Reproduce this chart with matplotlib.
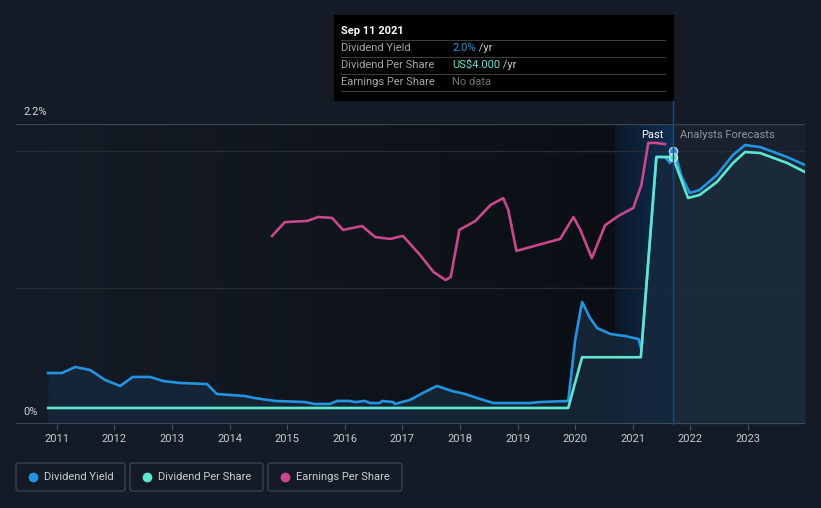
import numpy as np
import matplotlib
matplotlib.use("Agg")
import matplotlib.pyplot as plt
from matplotlib.patches import FancyBboxPatch, Rectangle
from matplotlib.lines import Line2D

plt.rcParams['font.family'] = ['Roboto', 'DejaVu Sans']

# ---------------- data ----------------
yield_past_x = [2010.85, 2011.09, 2011.32, 2011.58, 2011.84, 2012.10, 2012.32, 2012.62, 2012.85,
                2013.14, 2013.61, 2013.78, 2014.27, 2014.44, 2014.79, 2015.31, 2015.48, 2015.74,
                2015.87, 2016.09, 2016.18, 2016.35, 2016.44, 2016.61, 2016.65, 2016.84, 2016.87,
                2017.13, 2017.39, 2017.60, 2017.86, 2018.09, 2018.35, 2018.58, 2019.22, 2019.39,
                2019.88, 2020.00, 2020.12, 2020.26, 2020.38, 2020.61, 2020.87, 2021.10, 2021.15,
                2021.41, 2021.56, 2021.65, 2021.695]
yield_past_y = [0.374, 0.374, 0.418, 0.396, 0.323, 0.279, 0.345, 0.345, 0.315,
                0.301, 0.293, 0.220, 0.205, 0.190, 0.169, 0.161, 0.147, 0.147,
                0.169, 0.169, 0.161, 0.169, 0.154, 0.154, 0.169, 0.161, 0.147,
                0.176, 0.235, 0.279, 0.242, 0.220, 0.183, 0.154, 0.154, 0.161,
                0.169, 0.616, 0.895, 0.777, 0.704, 0.660, 0.645, 0.623, 0.543,
                1.958, 1.958, 1.914, 2.002]
yield_fc_x = [2021.695, 2021.73, 2021.85, 2021.99, 2022.16, 2022.46, 2022.74, 2022.95, 2023.21, 2023.68, 2023.99]
yield_fc_y = [2.002, 1.987, 1.811, 1.694, 1.716, 1.826, 1.973, 2.046, 2.031, 1.958, 1.899]

dps_past_x = [2010.85, 2019.88, 2020.12, 2021.14, 2021.41, 2021.56, 2021.695]
dps_past_y = [0.24, 0.24, 1.0, 1.0, 4.0, 4.0, 4.0]
dps_fc_x = [2021.695, 2021.96, 2022.16, 2022.46, 2022.74, 2022.95, 2023.21, 2023.68, 2023.99]
dps_fc_y = [4.0, 3.386, 3.431, 3.625, 3.91, 4.075, 4.06, 3.91, 3.775]

eps_x = [2014.74, 2014.96, 2015.35, 2015.54, 2015.78, 2015.97, 2016.30, 2016.53, 2016.79, 2017.01,
         2017.31, 2017.54, 2017.75, 2017.84, 2017.99, 2018.27, 2018.53, 2018.75, 2018.84, 2018.98,
         2019.17, 2019.74, 2019.97, 2020.09, 2020.29, 2020.52, 2020.78, 2021.01, 2021.15, 2021.27,
         2021.39, 2021.56]
eps_y = [6.27, 6.73, 6.77, 6.90, 6.87, 6.47, 6.60, 6.23, 6.17, 6.27,
         5.63, 5.07, 4.80, 4.90, 6.47, 6.77, 7.30, 7.53, 7.13, 5.77,
         5.87, 6.17, 6.90, 6.47, 5.53, 6.63, 6.97, 7.20, 7.97, 9.37,
         9.37, 9.33]

years = list(range(2011, 2024))
year_labels = [str(y) for y in years]

# ---------------- style ----------------
BG = '#151b26'
BLUE = '#2394df'
TEAL = '#5fe6cf'
PINK = '#c9488c'
W, H = 821, 508

fig = plt.figure(figsize=(W / 100, H / 100), dpi=100, facecolor=BG)

def fx(px):
    return px / W

def fy(py):
    return 1 - py / H

ax = fig.add_axes([fx(16), fy(424), fx(805) - fx(16), fy(124) - fy(424)])
ax.set_facecolor(BG)
XL = (2010.293, 2023.99)
ax.set_xlim(*XL)
ax.set_ylim(0, 2.2)
for s in ax.spines.values():
    s.set_visible(False)

x_start, x_band, x_now, x_end = 2010.85, 2020.693, 2021.695, 2023.99

# background gradients
def hgrad(c1, c2, n=256):
    c1 = np.array(matplotlib.colors.to_rgb(c1))
    c2 = np.array(matplotlib.colors.to_rgb(c2))
    t = np.linspace(0, 1, n)[None, :, None]
    return c1 + (c2 - c1) * t

ax.imshow(hgrad('#151b26', '#0b0f15'), extent=[x_start, x_band, 0, 2.2], aspect='auto', zorder=0)
ax.imshow(hgrad('#0c1828', '#0e2f54'), extent=[x_band, x_now, 0, 2.2], aspect='auto', zorder=0)
ax.add_patch(Rectangle((x_now, 0), x_end - x_now, 2.2, color='#18212d', zorder=0, lw=0))

# grid
ax.axhline(2.2, color='#3d434d', lw=1.0, zorder=1)
ax.axhline(2.0, color='#272d37', lw=1.0, zorder=1)
ax.axhline(1.0, color='#272d37', lw=1.0, zorder=1)
ax.axhline(0.0, color='#4a515d', lw=1.2, zorder=6)

ax.text(2010.42, 2.2 + 0.05, '2.2%', color='#d0d4da', fontsize=8, va='bottom', ha='left')
ax.text(2010.42, 0.05, '0%', color='#d0d4da', fontsize=8, va='bottom', ha='left')

# fills
ax.fill_between(yield_past_x, yield_past_y, 0, color='#16283b', alpha=0.85, lw=0, zorder=2)
ax.fill_between(yield_fc_x, yield_fc_y, 0, color='#1b2d3f', alpha=0.8, lw=0, zorder=2)

# yield lines
ax.plot(yield_past_x, yield_past_y, color=BLUE, lw=1.9, zorder=4, solid_joinstyle='round')
ax.plot(yield_fc_x, yield_fc_y, color=BLUE, lw=1.9, zorder=4, solid_joinstyle='round')

# DPS axis
ax2 = ax.twinx()
ax2.set_ylim(0, 300 / 66.75)
ax2.set_xlim(*XL)
ax2.axis('off')
ax2.plot(dps_past_x, dps_past_y, color=TEAL, lw=1.9, zorder=5, solid_joinstyle='round')
ax2.plot(dps_fc_x, dps_fc_y, color=TEAL, lw=1.9, zorder=5, solid_joinstyle='round')

# EPS axis
ax3 = ax.twinx()
ax3.set_ylim(0, 10.0)
ax3.set_xlim(*XL)
ax3.axis('off')
ax3.plot(eps_x, eps_y, color=PINK, lw=1.9, zorder=5, solid_joinstyle='round')

# end markers
ax.plot([yield_past_x[-1]], [yield_past_y[-1]], 'o', ms=6, color=BLUE, mec='#cfe3f5', mew=0.8, zorder=8)
ax2.plot([dps_past_x[-1]], [dps_past_y[-1]], 'o', ms=6, color=TEAL, mec='#d8f6f0', mew=0.8, zorder=8)

# ticks
ax.set_xticks(years)
ax.set_xticklabels(year_labels, color='#c8ccd2', fontsize=8)
ax.tick_params(axis='x', length=4, color='#4a515d', pad=3)
ax.set_yticks([])

# Past / forecast labels
ax.text(x_now - 0.17, 2.12, 'Past', color='white', fontsize=8, ha='right', va='center', zorder=9)
ax.text(x_now + 0.12, 2.12, 'Analysts Forecasts', color='#8c949f', fontsize=8, ha='left', va='center', zorder=9)

# vertical now line
fig.add_artist(Line2D([fx(673), fx(673)], [fy(424), fy(98)], color='#1d4a7c', lw=1.0, zorder=3))

# tooltip
fig.add_artist(Rectangle((fx(334), fy(100)), fx(673) - fx(334), fy(15) - fy(100),
                         transform=fig.transFigure, color='#000000', zorder=10))
for yy in [40, 57, 74, 91]:
    fig.add_artist(Line2D([fx(341), fx(665)], [fy(yy), fy(yy)], color='#3a3c40', lw=0.8, zorder=11))
fig.text(fx(341), fy(31), 'Sep 11 2021', color='white', fontsize=8, fontweight='bold', va='center', zorder=12)
rows = [('Dividend Yield', '2.0%', BLUE, ' /yr'),
        ('Dividend Per Share', 'US$4.000', TEAL, ' /yr'),
        ('Earnings Per Share', 'No data', '#6f747b', '')]
for i, (lab, val, col, suf) in enumerate(rows):
    yy = fy(48 + 17 * i)
    fig.text(fx(341), yy, lab, color='#a3a8ae', fontsize=8, va='center', zorder=12)
    t = fig.text(fx(452), yy, val, color=col, fontsize=8, va='center', zorder=12)
    if suf:
        fig.canvas.draw()
        bb = t.get_window_extent()
        fig.text(bb.x1 / W, yy, suf, color='#c8ccd2', fontsize=8, va='center', zorder=12)

# legend
legend_items = [('Dividend Yield', BLUE, 16, 125), ('Dividend Per Share', TEAL, 130, 263),
                ('Earnings Per Share', PINK, 268, 402)]
for lab, col, x0, x1 in legend_items:
    fig.add_artist(FancyBboxPatch((fx(x0), fy(491)), fx(x1) - fx(x0), fy(463) - fy(491),
                                  boxstyle='round,pad=0,rounding_size=0.004', transform=fig.transFigure,
                                  fc='none', ec='#3a414e', lw=1.0))
    fig.add_artist(Line2D([fx(x0 + 17)], [fy(477)], marker='o', ms=6, color=col, lw=0))
    fig.text(fx(x0 + 28), fy(477), lab, color='#c8ccd2', fontsize=8, va='center')

fig.savefig('out.png', dpi=100, facecolor=BG)
